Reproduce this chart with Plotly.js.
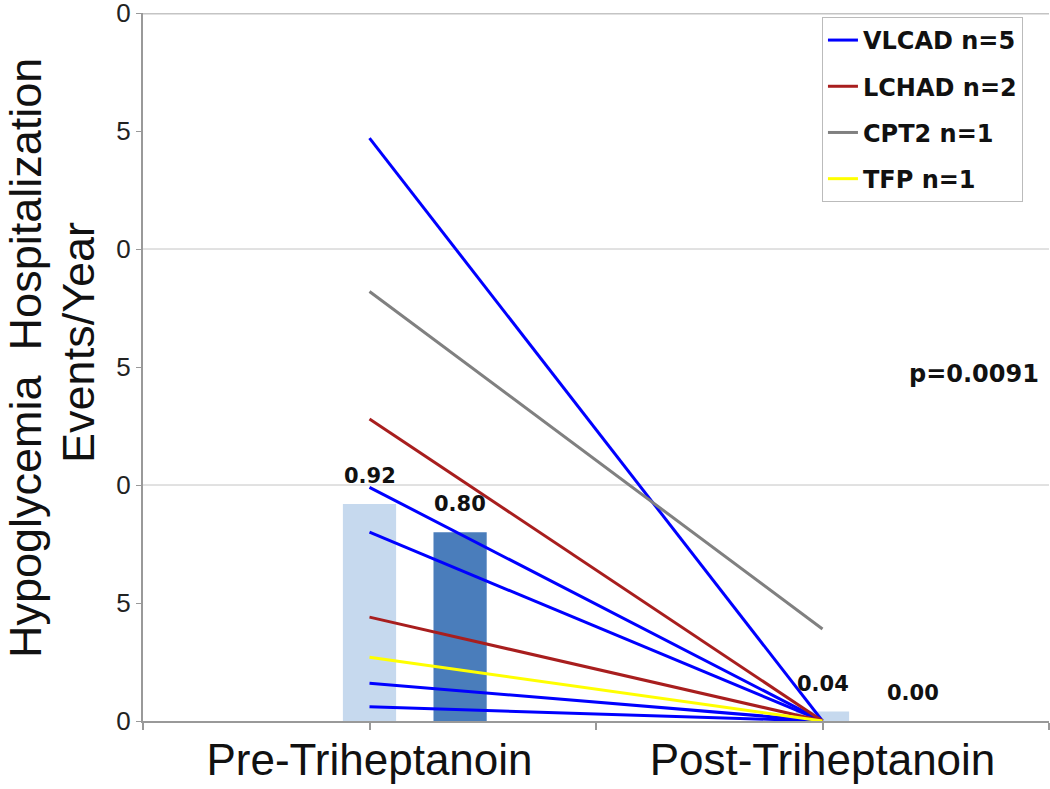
<!DOCTYPE html>
<html>
<head>
<meta charset="utf-8">
<script src="https://cdn.plot.ly/plotly-3.0.1.min.js"></script>
<style>html,body{margin:0;padding:0;background:#fff;}#chart{width:1050px;height:789px;}</style>
</head>
<body>
<div id="chart"></div>
<script>
// ---- data ----
const groupLabels = ["Pre-Triheptanoin", "Post-Triheptanoin"];
const groupPos = [1, 3];
const xTickVals = [0, 1, 2, 3, 4];
const xTickText = ["", "Pre-Triheptanoin", "", "Post-Triheptanoin", ""];
const yTickVals = [0, 0.5, 1, 1.5, 2, 2.5, 3];
const yTickText = ["0", "5", "0", "5", "0", "5", "0"];
const yGridVals = [1, 2, 3];
const yTitleLines = ["Hypoglycemia  Hospitalization", "Events/Year"];

const barLight = [0.92, 0.04];
const barDark = [0.80, 0.00];

const vlcadPre = [2.47, 0.99, 0.80, 0.16, 0.06];
const vlcadPost = [0, 0, 0, 0, 0];
const lchadPre = [1.28, 0.44];
const lchadPost = [0, 0];
const cpt2Pre = [1.82];
const cpt2Post = [0.39];
const tfpPre = [0.27];
const tfpPost = [0];

const seriesNames = ["VLCAD n=5", "LCHAD n=2", "CPT2 n=1", "TFP n=1"];
const pValueText = "p=0.0091";

// ---- styles ----
const colors = ["#0000FF", "#A81E1E", "#808080", "#FFFF00"];
const lightBar = "#C6D9EE";
const darkBar = "#4A7DBB";
const gridColor = "#C4C4C4";
const barW = 0.235;
const darkShift = 0.4;

const traces = [];
traces.push({
  type: "bar", x: groupPos, y: barLight, width: barW, offset: -barW / 2,
  marker: { color: lightBar }, showlegend: false, hoverinfo: "skip"
});
traces.push({
  type: "bar", x: groupPos, y: barDark, width: barW, offset: darkShift - barW / 2,
  marker: { color: darkBar }, showlegend: false, hoverinfo: "skip"
});

const groups = [
  [vlcadPre, vlcadPost],
  [lchadPre, lchadPost],
  [cpt2Pre, cpt2Post],
  [tfpPre, tfpPost]
];
groups.forEach(function (g, gi) {
  g[0].forEach(function (pre, i) {
    traces.push({
      type: "scatter", mode: "lines",
      x: groupPos, y: [pre, g[1][i]],
      name: seriesNames[gi], legendgroup: "g" + gi,
      showlegend: i === 0,
      line: { color: colors[gi], width: 3 }
    });
  });
});

const labelFont = { family: "DejaVu Sans", size: 21, color: "#111", weight: "bold" };
const annotations = [];
barLight.forEach(function (v, i) {
  annotations.push({
    x: groupPos[i], y: v, xref: "x", yref: "y", text: v.toFixed(2),
    showarrow: false, yanchor: "bottom", yshift: 14, font: labelFont
  });
});
barDark.forEach(function (v, i) {
  annotations.push({
    x: groupPos[i] + darkShift, y: v, xref: "x", yref: "y", text: v.toFixed(2),
    showarrow: false, yanchor: "bottom", yshift: 14, font: labelFont
  });
});
annotations.push({
  x: 1, y: 0.490, xref: "paper", yref: "paper", text: pValueText,
  showarrow: false, xanchor: "right", yanchor: "middle", xshift: -8,
  font: { family: "DejaVu Sans", size: 24, color: "#111", weight: "bold" }
});
// y-axis title (two lines, tight spacing as in the reference)
const titleFont = { family: "Liberation Sans, Arial", size: 45, color: "#111" };
annotations.push({
  x: 0, y: 0.5127, xref: "paper", yref: "paper", text: yTitleLines[0],
  textangle: -90, showarrow: false, xanchor: "center", yanchor: "middle",
  xshift: -118, font: titleFont
});
annotations.push({
  x: 0, y: 0.534, xref: "paper", yref: "paper", text: yTitleLines[1],
  textangle: -90, showarrow: false, xanchor: "center", yanchor: "middle",
  xshift: -64, font: titleFont
});

// horizontal gridlines at whole units, placed through the y scale
const shapes = yGridVals.map(function (v) {
  return {
    type: "line", xref: "paper", x0: 0, x1: 1, yref: "y", y0: v, y1: v,
    layer: "below", line: { color: gridColor, width: v === 3 ? 3 : 1 }
  };
});

const layout = {
  width: 1050, height: 789,
  margin: { l: 143, r: 1, t: 13, b: 68 },
  paper_bgcolor: "#fff", plot_bgcolor: "#fff",
  barmode: "overlay",
  showlegend: true,
  legend: {
    x: 0.7494, xanchor: "left", y: 0.9944, yanchor: "top",
    bgcolor: "#fff", bordercolor: "#BBBBBB", borderwidth: 1,
    font: { family: "DejaVu Sans", size: 24, color: "#111", weight: "bold" },
    itemwidth: 30, tracegroupgap: 12, traceorder: "grouped"
  },
  xaxis: {
    range: [0, 4], tickmode: "array", tickvals: xTickVals, ticktext: xTickText,
    ticks: "outside", ticklen: 7, tickcolor: "#999", tickwidth: 2,
    showline: true, linecolor: "#999", linewidth: 2,
    showgrid: false, zeroline: false, ticklabelstandoff: -8,
    tickfont: { family: "Liberation Sans, Arial", size: 44, color: "#111" }
  },
  yaxis: {
    range: [0, 3], tickmode: "array", tickvals: yTickVals, ticktext: yTickText,
    ticks: "outside", ticklen: 5, tickcolor: "#999", tickwidth: 1,
    showline: true, linecolor: "#999", linewidth: 2,
    showgrid: false, zeroline: false, ticklabeloverflow: "allow",
    tickfont: { family: "Liberation Sans, Arial", size: 26, color: "#222" }
  },
  shapes: shapes,
  annotations: annotations
};

Plotly.newPlot("chart", traces, layout, { displayModeBar: false, staticPlot: true });
</script>
</body>
</html>
